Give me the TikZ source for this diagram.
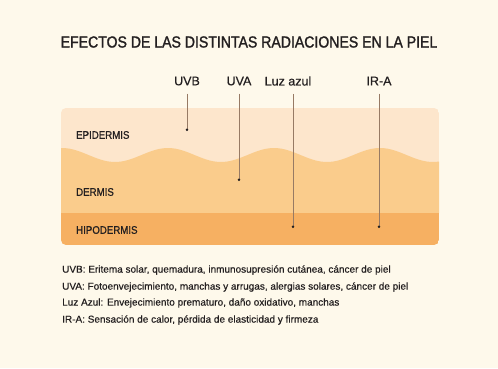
\documentclass[tikz,border=0pt]{standalone}
\usepackage{fontspec}
\setmainfont[FakeBold=0.5]{Liberation Sans}
\newfontfamily\capsfont[FakeStretch=0.88, FakeBold=0.9]{Liberation Sans}
\newfontfamily\titlefont[FakeStretch=0.88, FakeBold=1.4]{Liberation Sans}
\usepackage{xcolor}
\usetikzlibrary{arrows.meta}
\definecolor{fondo}{HTML}{FEF9EB}
\definecolor{epid}{HTML}{FDE6CC}
\definecolor{derm}{HTML}{FACC8C}
\definecolor{hipo}{HTML}{F6B062}
\definecolor{texto}{HTML}{231F20}
\definecolor{rayo}{HTML}{977A64}
\begin{document}
\begin{tikzpicture}[x=1bp, y=-1bp,
  every node/.style={text=texto, inner sep=0pt},
  radiacion/.style={font=\fontsize{12.5bp}{14bp}\selectfont},
  capa/.style={anchor=west, font=\capsfont\fontsize{11bp}{13bp}\selectfont},
  efecto/.style={anchor=west, font=\fontsize{10bp}{12bp}\selectfont},
  rayoline/.style={draw=rayo, line width=0.7bp, -{Circle[length=2.4bp, color=texto, fill=texto]}}]
\fill[fondo] (0,0) rectangle (498,368);
\useasboundingbox (0,0) rectangle (498,368);
\node[font=\titlefont\fontsize{16bp}{19bp}\selectfont] (titulo) at (249,42) {EFECTOS DE LAS DISTINTAS RADIACIONES EN LA PIEL};
\begin{scope}
\clip[rounded corners=5bp] (61,108) rectangle (439,245);
\fill[epid] (61,108) rectangle (439,213);
\fill[derm] (61,213) -- plot[domain=61:439, samples=90] (\x,{155-7*cos(3.3962*(\x-168))}) -- (439,213) -- cycle;
\fill[hipo] (61,213) rectangle (439,245);
\end{scope}
\node[capa] (epidermis) at (76,135) {EPIDERMIS};
\node[capa] (dermis) at (76,192) {DERMIS};
\node[capa] (hipodermis) at (76,230) {HIPODERMIS};
\node[radiacion] (uvb) at (187,81) {UVB};
\node[radiacion] (uva) at (239,81) {UVA};
\node[radiacion] (luz) at (288,81) {Luz azul};
\node[radiacion] (ira) at (379,81) {IR-A};
\coordinate (uvbend) at (187,131);
\coordinate (uvaend) at (239,181);
\coordinate (luzend) at (293,228);
\coordinate (iraend) at (379,228);
\draw[rayoline] ([yshift=-8bp]uvb.south) -- (uvbend);
\draw[rayoline] ([yshift=-8bp]uva.south) -- (uvaend);
\draw[rayoline] ([yshift=-8bp]luz.south -| luzend) -- (luzend);
\draw[rayoline] ([yshift=-8bp]ira.south) -- (iraend);
\node[efecto] (efuvb) at (62,270) {UVB: Eritema solar, quemadura, inmunosupresión cutánea, cáncer de piel};
\node[efecto] (efuva) at (62,287) {UVA: Fotoenvejecimiento, manchas y arrugas, alergias solares, cáncer de piel};
\node[efecto] (efluz) at (62,303) {Luz Azul: Envejecimiento prematuro, daño oxidativo, manchas};
\node[efecto] (efira) at (62,320) {IR-A: Sensación de calor, pérdida de elasticidad y firmeza};
\end{tikzpicture}
\end{document}
